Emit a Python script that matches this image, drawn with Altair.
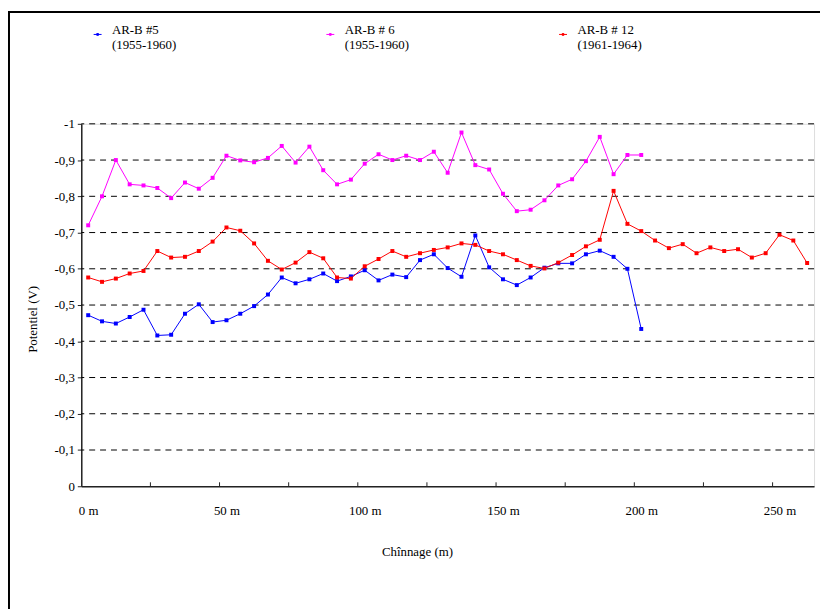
import altair as alt
import pandas as pd

# ---- data -------------------------------------------------------------
series_names = ["AR-B #5", "AR-B # 6", "AR-B # 12"]
series_periods = ["(1955-1960)", "(1955-1960)", "(1961-1964)"]
series_colors = ["#0000FF", "#FF00FF", "#FF0000"]

chainage_m = [0, 5, 10, 15, 20, 25, 30, 35, 40, 45, 50, 55, 60, 65, 70, 75, 80,
              85, 90, 95, 100, 105, 110, 115, 120, 125, 130, 135, 140, 145, 150,
              155, 160, 165, 170, 175, 180, 185, 190, 195, 200, 205, 210, 215,
              220, 225, 230, 235, 240, 245, 250, 255, 260]

arb5 = [-0.472, -0.455, -0.449, -0.467, -0.487, -0.416, -0.418, -0.476, -0.502,
        -0.453, -0.458, -0.476, -0.497, -0.529, -0.576, -0.560, -0.571, -0.587,
        -0.566, -0.579, -0.596, -0.568, -0.584, -0.577, -0.624, -0.640, -0.602,
        -0.578, -0.692, -0.604, -0.571, -0.555, -0.576, -0.603, -0.615, -0.615,
        -0.640, -0.650, -0.633, -0.600, -0.434]

arb6 = [-0.720, -0.800, -0.900, -0.833, -0.830, -0.823, -0.795, -0.838, -0.821,
        -0.851, -0.912, -0.899, -0.894, -0.906, -0.939, -0.893, -0.937, -0.872,
        -0.833, -0.846, -0.890, -0.916, -0.900, -0.912, -0.900, -0.923, -0.865,
        -0.976, -0.886, -0.874, -0.807, -0.759, -0.763, -0.789, -0.830, -0.847,
        -0.897, -0.964, -0.861, -0.914, -0.914]

arb12 = [-0.576, -0.564, -0.573, -0.587, -0.594, -0.649, -0.631, -0.633, -0.649,
         -0.675, -0.714, -0.705, -0.670, -0.622, -0.598, -0.617, -0.646, -0.629,
         -0.576, -0.573, -0.607, -0.627, -0.649, -0.633, -0.643, -0.652, -0.659,
         -0.670, -0.666, -0.649, -0.640, -0.624, -0.608, -0.601, -0.617, -0.638,
         -0.662, -0.680, -0.815, -0.724, -0.704, -0.678, -0.657, -0.668, -0.643,
         -0.659, -0.649, -0.654, -0.631, -0.643, -0.694, -0.678, -0.616]

x_label_values = [0, 50, 100, 150, 200, 250]
x_tick_marks = [22.5, 47.5, 72.5, 97.5, 122.5, 147.5, 172.5, 197.5, 222.5, 247.5]
y_grid_values = [-1.0, -0.9, -0.8, -0.7, -0.6, -0.5, -0.4, -0.3, -0.2, -0.1]

# ---- table -------------------------------------------------------------
labels = [n + "|" + p for n, p in zip(series_names, series_periods)]
rows = []
for lab, vals in zip(labels, [arb5, arb6, arb12]):
    for c, v in zip(chainage_m, vals):
        rows.append({"series": lab, "chainage": c, "potentiel": v})
df = pd.DataFrame(rows)

W, H = 740, 366
FONT = "Times New Roman"
FS = 13

x_enc = alt.X(
    "chainage:Q",
    scale=alt.Scale(domain=[-2.5, 262.5], nice=False, zero=False),
    axis=alt.Axis(
        values=x_label_values, labelExpr="datum.value + ' m'", tickSize=0,
        labelPadding=19, grid=False, domainColor="#222222", domainWidth=1.5,
        labelFont=FONT, labelFontSize=FS, labelColor="black", labelFlush=False,
        labelOverlap=False, title="Chînnage (m)", titleFont=FONT,
        titleFontSize=FS, titleFontWeight="normal", titleColor="black",
        titleX=339, titleY=66, titleBaseline="middle",
    ),
)
y_enc = alt.Y(
    "potentiel:Q",
    scale=alt.Scale(domain=[-1, 0], reverse=True, nice=False, zero=False),
    axis=alt.Axis(
        tickCount=10,
        labelExpr="datum.value == 0 ? '0' : (datum.value <= -0.99 ? '-1' : '-0,' + round(abs(datum.value) * 10))",
        tickSize=4, tickColor="#222222", labelPadding=3, grid=False,
        labelOverlap=False,
        domainColor="#222222", domainWidth=1.5, labelFont=FONT,
        labelFontSize=FS, labelColor="black", title="Potentiel (V)",
        titleFont=FONT, titleFontSize=FS, titleFontWeight="normal",
        titleColor="black", titleX=-42, titleY=197,
    ),
)
color_scale = alt.Scale(domain=labels, range=series_colors)

grid = alt.Chart(pd.DataFrame({"potentiel": y_grid_values})).mark_rule(
    color="black", strokeWidth=1, strokeDash=[6, 5]
).encode(y="potentiel:Q")

lines = alt.Chart(df).mark_line(strokeWidth=1).encode(
    x=x_enc,
    y=y_enc,
    color=alt.Color(
        "series:N", scale=color_scale,
        legend=alt.Legend(
            title=None, orient="none", legendX=10, legendY=-97,
            direction="horizontal", columns=3, columnPadding=149,
            labelExpr="split(datum.label, '|')", labelFont=FONT,
            labelFontSize=FS, labelColor="black", labelLimit=0,
            labelBaseline="alphabetic", labelOffset=8,
            symbolType="M-1,0H1M-0.22,-0.22H0.22V0.22H-0.22Z",
            symbolSize=64, symbolStrokeWidth=1,
        ),
    ),
)
points = alt.Chart(df).mark_point(shape="square", filled=True, size=16, opacity=1).encode(
    x="chainage:Q",
    y="potentiel:Q",
    color=alt.Color("series:N", scale=color_scale, legend=None),
)
ticks = alt.Chart(pd.DataFrame({"chainage": x_tick_marks})).mark_rule(
    color="#222222", strokeWidth=1
).encode(x="chainage:Q", y=alt.value(H - 4), y2=alt.value(H))

frame = alt.Chart(pd.DataFrame({"a": [0]})).mark_rect(
    fillOpacity=0, stroke="black", strokeWidth=2
).encode(x=alt.value(-73), x2=alt.value(760), y=alt.value(-113), y2=alt.value(600))

chart = alt.layer(grid, ticks, lines, points, frame).properties(
    width=W, height=H,
    autosize=alt.AutoSizeParams(type="none"),
    padding={"left": 74, "top": 114, "right": 6, "bottom": 121},
).configure_view(stroke="#A0A0A0", strokeWidth=1).configure(background="white")

chart.save("out.html", embed_options={"renderer": "svg", "actions": False})
